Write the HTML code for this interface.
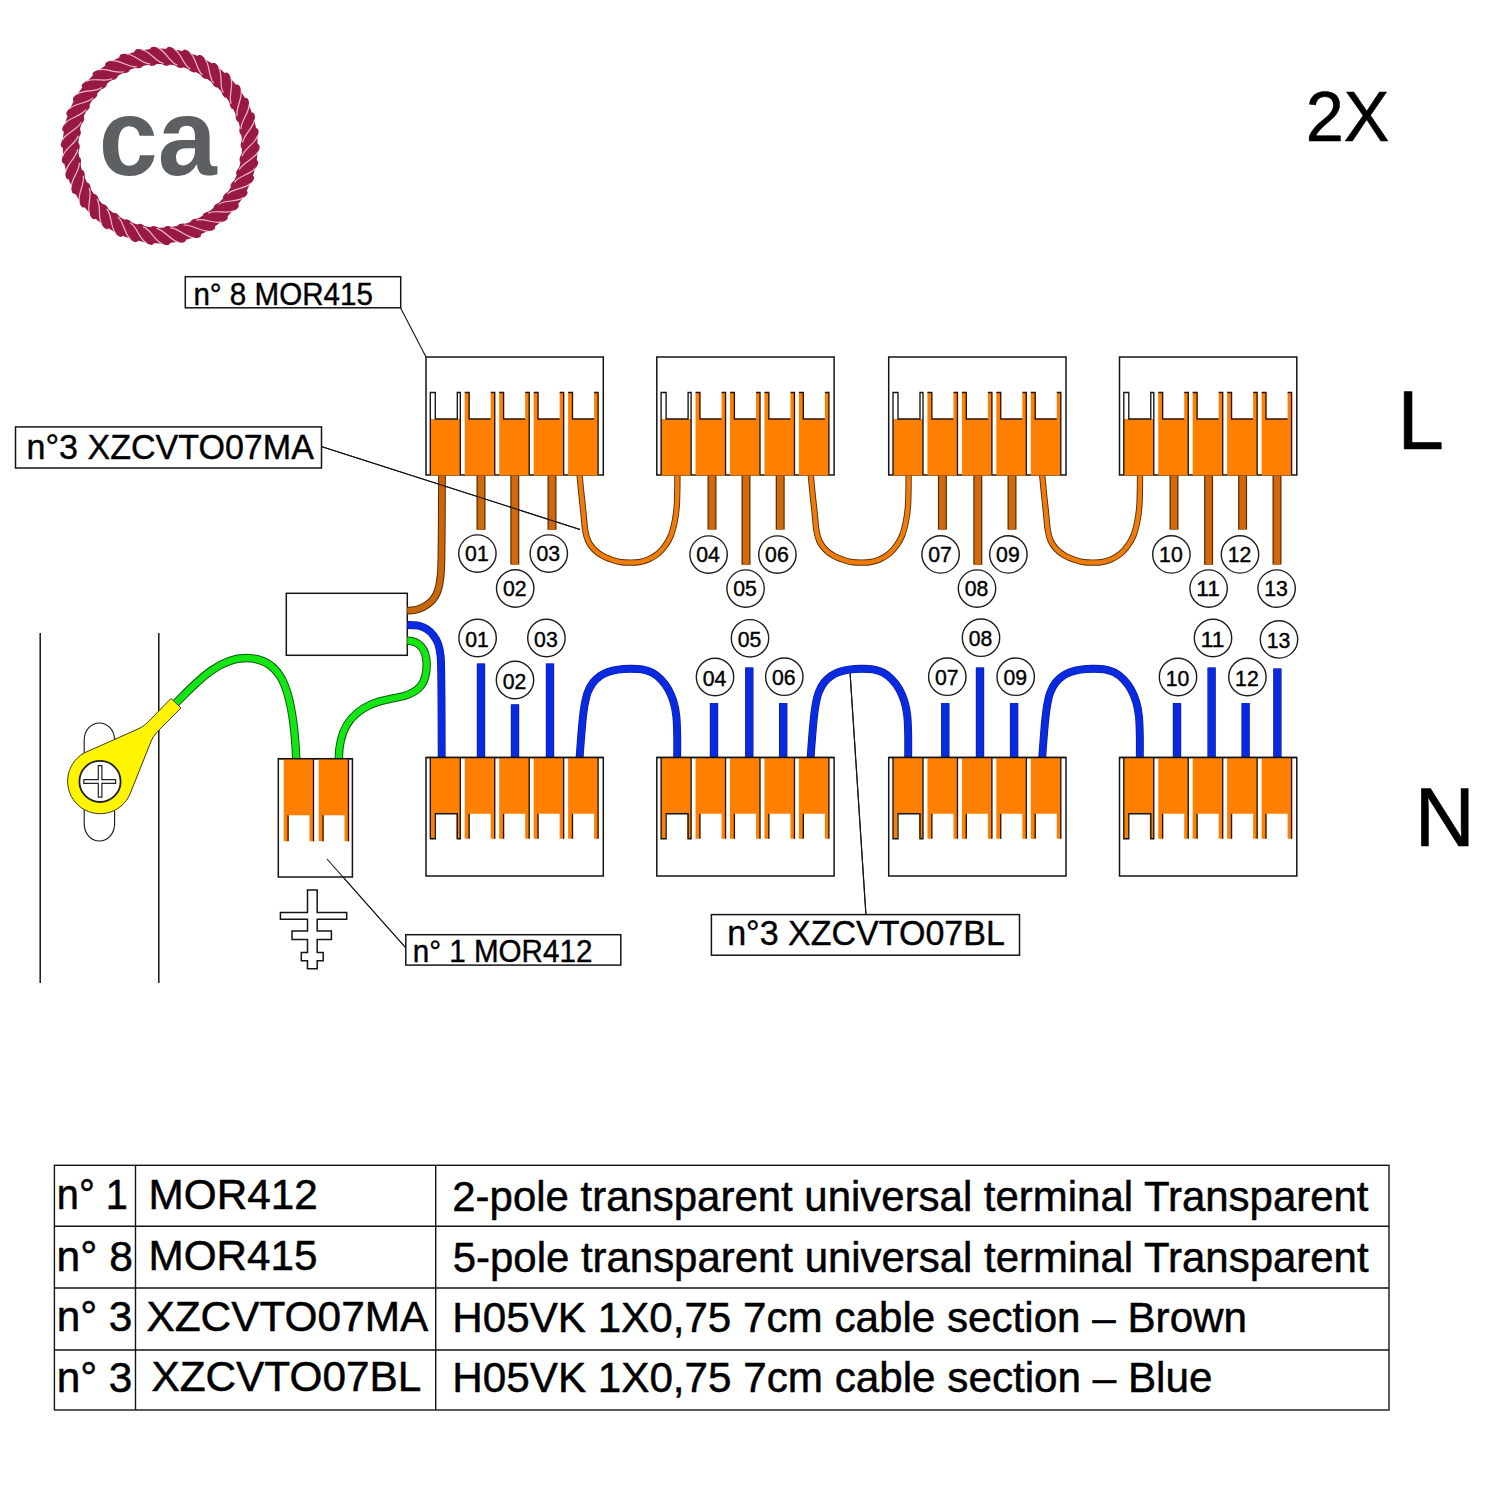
<!DOCTYPE html>
<html lang="en"><head><meta charset="utf-8"><title>Wiring diagram</title>
<style>
html,body{margin:0;padding:0;background:#fff;}
body{width:1500px;height:1499px;overflow:hidden;}
svg{display:block;}
text{white-space:pre;}
</style></head><body>
<svg width="1500" height="1499" viewBox="0 0 1500 1499">
<rect width="1500" height="1499" fill="#fff"/>
<g id="logo">
<circle cx="160.2" cy="145.9" r="89.7" fill="none" stroke="#981a42" stroke-width="15.6"/>
<ellipse cx="0" cy="0" rx="12.6" ry="5.6" fill="#981a42" transform="rotate(0.000 160.2 145.9) translate(160.2 56.20) rotate(43)"/>
<ellipse cx="0" cy="0" rx="12.6" ry="5.6" fill="#981a42" transform="rotate(9.474 160.2 145.9) translate(160.2 56.20) rotate(43)"/>
<ellipse cx="0" cy="0" rx="12.6" ry="5.6" fill="#981a42" transform="rotate(18.947 160.2 145.9) translate(160.2 56.20) rotate(43)"/>
<ellipse cx="0" cy="0" rx="12.6" ry="5.6" fill="#981a42" transform="rotate(28.421 160.2 145.9) translate(160.2 56.20) rotate(43)"/>
<ellipse cx="0" cy="0" rx="12.6" ry="5.6" fill="#981a42" transform="rotate(37.895 160.2 145.9) translate(160.2 56.20) rotate(43)"/>
<ellipse cx="0" cy="0" rx="12.6" ry="5.6" fill="#981a42" transform="rotate(47.368 160.2 145.9) translate(160.2 56.20) rotate(43)"/>
<ellipse cx="0" cy="0" rx="12.6" ry="5.6" fill="#981a42" transform="rotate(56.842 160.2 145.9) translate(160.2 56.20) rotate(43)"/>
<ellipse cx="0" cy="0" rx="12.6" ry="5.6" fill="#981a42" transform="rotate(66.316 160.2 145.9) translate(160.2 56.20) rotate(43)"/>
<ellipse cx="0" cy="0" rx="12.6" ry="5.6" fill="#981a42" transform="rotate(75.789 160.2 145.9) translate(160.2 56.20) rotate(43)"/>
<ellipse cx="0" cy="0" rx="12.6" ry="5.6" fill="#981a42" transform="rotate(85.263 160.2 145.9) translate(160.2 56.20) rotate(43)"/>
<ellipse cx="0" cy="0" rx="12.6" ry="5.6" fill="#981a42" transform="rotate(94.737 160.2 145.9) translate(160.2 56.20) rotate(43)"/>
<ellipse cx="0" cy="0" rx="12.6" ry="5.6" fill="#981a42" transform="rotate(104.211 160.2 145.9) translate(160.2 56.20) rotate(43)"/>
<ellipse cx="0" cy="0" rx="12.6" ry="5.6" fill="#981a42" transform="rotate(113.684 160.2 145.9) translate(160.2 56.20) rotate(43)"/>
<ellipse cx="0" cy="0" rx="12.6" ry="5.6" fill="#981a42" transform="rotate(123.158 160.2 145.9) translate(160.2 56.20) rotate(43)"/>
<ellipse cx="0" cy="0" rx="12.6" ry="5.6" fill="#981a42" transform="rotate(132.632 160.2 145.9) translate(160.2 56.20) rotate(43)"/>
<ellipse cx="0" cy="0" rx="12.6" ry="5.6" fill="#981a42" transform="rotate(142.105 160.2 145.9) translate(160.2 56.20) rotate(43)"/>
<ellipse cx="0" cy="0" rx="12.6" ry="5.6" fill="#981a42" transform="rotate(151.579 160.2 145.9) translate(160.2 56.20) rotate(43)"/>
<ellipse cx="0" cy="0" rx="12.6" ry="5.6" fill="#981a42" transform="rotate(161.053 160.2 145.9) translate(160.2 56.20) rotate(43)"/>
<ellipse cx="0" cy="0" rx="12.6" ry="5.6" fill="#981a42" transform="rotate(170.526 160.2 145.9) translate(160.2 56.20) rotate(43)"/>
<ellipse cx="0" cy="0" rx="12.6" ry="5.6" fill="#981a42" transform="rotate(180.000 160.2 145.9) translate(160.2 56.20) rotate(43)"/>
<ellipse cx="0" cy="0" rx="12.6" ry="5.6" fill="#981a42" transform="rotate(189.474 160.2 145.9) translate(160.2 56.20) rotate(43)"/>
<ellipse cx="0" cy="0" rx="12.6" ry="5.6" fill="#981a42" transform="rotate(198.947 160.2 145.9) translate(160.2 56.20) rotate(43)"/>
<ellipse cx="0" cy="0" rx="12.6" ry="5.6" fill="#981a42" transform="rotate(208.421 160.2 145.9) translate(160.2 56.20) rotate(43)"/>
<ellipse cx="0" cy="0" rx="12.6" ry="5.6" fill="#981a42" transform="rotate(217.895 160.2 145.9) translate(160.2 56.20) rotate(43)"/>
<ellipse cx="0" cy="0" rx="12.6" ry="5.6" fill="#981a42" transform="rotate(227.368 160.2 145.9) translate(160.2 56.20) rotate(43)"/>
<ellipse cx="0" cy="0" rx="12.6" ry="5.6" fill="#981a42" transform="rotate(236.842 160.2 145.9) translate(160.2 56.20) rotate(43)"/>
<ellipse cx="0" cy="0" rx="12.6" ry="5.6" fill="#981a42" transform="rotate(246.316 160.2 145.9) translate(160.2 56.20) rotate(43)"/>
<ellipse cx="0" cy="0" rx="12.6" ry="5.6" fill="#981a42" transform="rotate(255.789 160.2 145.9) translate(160.2 56.20) rotate(43)"/>
<ellipse cx="0" cy="0" rx="12.6" ry="5.6" fill="#981a42" transform="rotate(265.263 160.2 145.9) translate(160.2 56.20) rotate(43)"/>
<ellipse cx="0" cy="0" rx="12.6" ry="5.6" fill="#981a42" transform="rotate(274.737 160.2 145.9) translate(160.2 56.20) rotate(43)"/>
<ellipse cx="0" cy="0" rx="12.6" ry="5.6" fill="#981a42" transform="rotate(284.211 160.2 145.9) translate(160.2 56.20) rotate(43)"/>
<ellipse cx="0" cy="0" rx="12.6" ry="5.6" fill="#981a42" transform="rotate(293.684 160.2 145.9) translate(160.2 56.20) rotate(43)"/>
<ellipse cx="0" cy="0" rx="12.6" ry="5.6" fill="#981a42" transform="rotate(303.158 160.2 145.9) translate(160.2 56.20) rotate(43)"/>
<ellipse cx="0" cy="0" rx="12.6" ry="5.6" fill="#981a42" transform="rotate(312.632 160.2 145.9) translate(160.2 56.20) rotate(43)"/>
<ellipse cx="0" cy="0" rx="12.6" ry="5.6" fill="#981a42" transform="rotate(322.105 160.2 145.9) translate(160.2 56.20) rotate(43)"/>
<ellipse cx="0" cy="0" rx="12.6" ry="5.6" fill="#981a42" transform="rotate(331.579 160.2 145.9) translate(160.2 56.20) rotate(43)"/>
<ellipse cx="0" cy="0" rx="12.6" ry="5.6" fill="#981a42" transform="rotate(341.053 160.2 145.9) translate(160.2 56.20) rotate(43)"/>
<ellipse cx="0" cy="0" rx="12.6" ry="5.6" fill="#981a42" transform="rotate(350.526 160.2 145.9) translate(160.2 56.20) rotate(43)"/>
<path d="M-12.4,1.2 C-6,-2.2 6,2.2 12.4,-1.2" fill="none" stroke="#f4b6c6" stroke-width="1.2" stroke-linecap="round" transform="rotate(4.737 160.2 145.9) translate(160.2 56.20) rotate(43)"/>
<path d="M-12.4,1.2 C-6,-2.2 6,2.2 12.4,-1.2" fill="none" stroke="#f4b6c6" stroke-width="1.2" stroke-linecap="round" transform="rotate(14.211 160.2 145.9) translate(160.2 56.20) rotate(43)"/>
<path d="M-12.4,1.2 C-6,-2.2 6,2.2 12.4,-1.2" fill="none" stroke="#f4b6c6" stroke-width="1.2" stroke-linecap="round" transform="rotate(23.684 160.2 145.9) translate(160.2 56.20) rotate(43)"/>
<path d="M-12.4,1.2 C-6,-2.2 6,2.2 12.4,-1.2" fill="none" stroke="#f4b6c6" stroke-width="1.2" stroke-linecap="round" transform="rotate(33.158 160.2 145.9) translate(160.2 56.20) rotate(43)"/>
<path d="M-12.4,1.2 C-6,-2.2 6,2.2 12.4,-1.2" fill="none" stroke="#f4b6c6" stroke-width="1.2" stroke-linecap="round" transform="rotate(42.632 160.2 145.9) translate(160.2 56.20) rotate(43)"/>
<path d="M-12.4,1.2 C-6,-2.2 6,2.2 12.4,-1.2" fill="none" stroke="#f4b6c6" stroke-width="1.2" stroke-linecap="round" transform="rotate(52.105 160.2 145.9) translate(160.2 56.20) rotate(43)"/>
<path d="M-12.4,1.2 C-6,-2.2 6,2.2 12.4,-1.2" fill="none" stroke="#f4b6c6" stroke-width="1.2" stroke-linecap="round" transform="rotate(61.579 160.2 145.9) translate(160.2 56.20) rotate(43)"/>
<path d="M-12.4,1.2 C-6,-2.2 6,2.2 12.4,-1.2" fill="none" stroke="#f4b6c6" stroke-width="1.2" stroke-linecap="round" transform="rotate(71.053 160.2 145.9) translate(160.2 56.20) rotate(43)"/>
<path d="M-12.4,1.2 C-6,-2.2 6,2.2 12.4,-1.2" fill="none" stroke="#f4b6c6" stroke-width="1.2" stroke-linecap="round" transform="rotate(80.526 160.2 145.9) translate(160.2 56.20) rotate(43)"/>
<path d="M-12.4,1.2 C-6,-2.2 6,2.2 12.4,-1.2" fill="none" stroke="#f4b6c6" stroke-width="1.2" stroke-linecap="round" transform="rotate(90.000 160.2 145.9) translate(160.2 56.20) rotate(43)"/>
<path d="M-12.4,1.2 C-6,-2.2 6,2.2 12.4,-1.2" fill="none" stroke="#f4b6c6" stroke-width="1.2" stroke-linecap="round" transform="rotate(99.474 160.2 145.9) translate(160.2 56.20) rotate(43)"/>
<path d="M-12.4,1.2 C-6,-2.2 6,2.2 12.4,-1.2" fill="none" stroke="#f4b6c6" stroke-width="1.2" stroke-linecap="round" transform="rotate(108.947 160.2 145.9) translate(160.2 56.20) rotate(43)"/>
<path d="M-12.4,1.2 C-6,-2.2 6,2.2 12.4,-1.2" fill="none" stroke="#f4b6c6" stroke-width="1.2" stroke-linecap="round" transform="rotate(118.421 160.2 145.9) translate(160.2 56.20) rotate(43)"/>
<path d="M-12.4,1.2 C-6,-2.2 6,2.2 12.4,-1.2" fill="none" stroke="#f4b6c6" stroke-width="1.2" stroke-linecap="round" transform="rotate(127.895 160.2 145.9) translate(160.2 56.20) rotate(43)"/>
<path d="M-12.4,1.2 C-6,-2.2 6,2.2 12.4,-1.2" fill="none" stroke="#f4b6c6" stroke-width="1.2" stroke-linecap="round" transform="rotate(137.368 160.2 145.9) translate(160.2 56.20) rotate(43)"/>
<path d="M-12.4,1.2 C-6,-2.2 6,2.2 12.4,-1.2" fill="none" stroke="#f4b6c6" stroke-width="1.2" stroke-linecap="round" transform="rotate(146.842 160.2 145.9) translate(160.2 56.20) rotate(43)"/>
<path d="M-12.4,1.2 C-6,-2.2 6,2.2 12.4,-1.2" fill="none" stroke="#f4b6c6" stroke-width="1.2" stroke-linecap="round" transform="rotate(156.316 160.2 145.9) translate(160.2 56.20) rotate(43)"/>
<path d="M-12.4,1.2 C-6,-2.2 6,2.2 12.4,-1.2" fill="none" stroke="#f4b6c6" stroke-width="1.2" stroke-linecap="round" transform="rotate(165.789 160.2 145.9) translate(160.2 56.20) rotate(43)"/>
<path d="M-12.4,1.2 C-6,-2.2 6,2.2 12.4,-1.2" fill="none" stroke="#f4b6c6" stroke-width="1.2" stroke-linecap="round" transform="rotate(175.263 160.2 145.9) translate(160.2 56.20) rotate(43)"/>
<path d="M-12.4,1.2 C-6,-2.2 6,2.2 12.4,-1.2" fill="none" stroke="#f4b6c6" stroke-width="1.2" stroke-linecap="round" transform="rotate(184.737 160.2 145.9) translate(160.2 56.20) rotate(43)"/>
<path d="M-12.4,1.2 C-6,-2.2 6,2.2 12.4,-1.2" fill="none" stroke="#f4b6c6" stroke-width="1.2" stroke-linecap="round" transform="rotate(194.211 160.2 145.9) translate(160.2 56.20) rotate(43)"/>
<path d="M-12.4,1.2 C-6,-2.2 6,2.2 12.4,-1.2" fill="none" stroke="#f4b6c6" stroke-width="1.2" stroke-linecap="round" transform="rotate(203.684 160.2 145.9) translate(160.2 56.20) rotate(43)"/>
<path d="M-12.4,1.2 C-6,-2.2 6,2.2 12.4,-1.2" fill="none" stroke="#f4b6c6" stroke-width="1.2" stroke-linecap="round" transform="rotate(213.158 160.2 145.9) translate(160.2 56.20) rotate(43)"/>
<path d="M-12.4,1.2 C-6,-2.2 6,2.2 12.4,-1.2" fill="none" stroke="#f4b6c6" stroke-width="1.2" stroke-linecap="round" transform="rotate(222.632 160.2 145.9) translate(160.2 56.20) rotate(43)"/>
<path d="M-12.4,1.2 C-6,-2.2 6,2.2 12.4,-1.2" fill="none" stroke="#f4b6c6" stroke-width="1.2" stroke-linecap="round" transform="rotate(232.105 160.2 145.9) translate(160.2 56.20) rotate(43)"/>
<path d="M-12.4,1.2 C-6,-2.2 6,2.2 12.4,-1.2" fill="none" stroke="#f4b6c6" stroke-width="1.2" stroke-linecap="round" transform="rotate(241.579 160.2 145.9) translate(160.2 56.20) rotate(43)"/>
<path d="M-12.4,1.2 C-6,-2.2 6,2.2 12.4,-1.2" fill="none" stroke="#f4b6c6" stroke-width="1.2" stroke-linecap="round" transform="rotate(251.053 160.2 145.9) translate(160.2 56.20) rotate(43)"/>
<path d="M-12.4,1.2 C-6,-2.2 6,2.2 12.4,-1.2" fill="none" stroke="#f4b6c6" stroke-width="1.2" stroke-linecap="round" transform="rotate(260.526 160.2 145.9) translate(160.2 56.20) rotate(43)"/>
<path d="M-12.4,1.2 C-6,-2.2 6,2.2 12.4,-1.2" fill="none" stroke="#f4b6c6" stroke-width="1.2" stroke-linecap="round" transform="rotate(270.000 160.2 145.9) translate(160.2 56.20) rotate(43)"/>
<path d="M-12.4,1.2 C-6,-2.2 6,2.2 12.4,-1.2" fill="none" stroke="#f4b6c6" stroke-width="1.2" stroke-linecap="round" transform="rotate(279.474 160.2 145.9) translate(160.2 56.20) rotate(43)"/>
<path d="M-12.4,1.2 C-6,-2.2 6,2.2 12.4,-1.2" fill="none" stroke="#f4b6c6" stroke-width="1.2" stroke-linecap="round" transform="rotate(288.947 160.2 145.9) translate(160.2 56.20) rotate(43)"/>
<path d="M-12.4,1.2 C-6,-2.2 6,2.2 12.4,-1.2" fill="none" stroke="#f4b6c6" stroke-width="1.2" stroke-linecap="round" transform="rotate(298.421 160.2 145.9) translate(160.2 56.20) rotate(43)"/>
<path d="M-12.4,1.2 C-6,-2.2 6,2.2 12.4,-1.2" fill="none" stroke="#f4b6c6" stroke-width="1.2" stroke-linecap="round" transform="rotate(307.895 160.2 145.9) translate(160.2 56.20) rotate(43)"/>
<path d="M-12.4,1.2 C-6,-2.2 6,2.2 12.4,-1.2" fill="none" stroke="#f4b6c6" stroke-width="1.2" stroke-linecap="round" transform="rotate(317.368 160.2 145.9) translate(160.2 56.20) rotate(43)"/>
<path d="M-12.4,1.2 C-6,-2.2 6,2.2 12.4,-1.2" fill="none" stroke="#f4b6c6" stroke-width="1.2" stroke-linecap="round" transform="rotate(326.842 160.2 145.9) translate(160.2 56.20) rotate(43)"/>
<path d="M-12.4,1.2 C-6,-2.2 6,2.2 12.4,-1.2" fill="none" stroke="#f4b6c6" stroke-width="1.2" stroke-linecap="round" transform="rotate(336.316 160.2 145.9) translate(160.2 56.20) rotate(43)"/>
<path d="M-12.4,1.2 C-6,-2.2 6,2.2 12.4,-1.2" fill="none" stroke="#f4b6c6" stroke-width="1.2" stroke-linecap="round" transform="rotate(345.789 160.2 145.9) translate(160.2 56.20) rotate(43)"/>
<path d="M-12.4,1.2 C-6,-2.2 6,2.2 12.4,-1.2" fill="none" stroke="#f4b6c6" stroke-width="1.2" stroke-linecap="round" transform="rotate(355.263 160.2 145.9) translate(160.2 56.20) rotate(43)"/>
<text x="98.66" y="174.60" font-family="Liberation Sans, sans-serif" font-weight="bold" font-size="108.5" fill="#5c6063" textLength="118.00" lengthAdjust="spacingAndGlyphs">ca</text>
</g>
<text x="1305.78" y="140.50" font-family="Liberation Sans, sans-serif" font-size="70" fill="#000" stroke="#000" stroke-width="0.6" stroke-linejoin="round" textLength="83.60" lengthAdjust="spacingAndGlyphs">2X</text>
<text x="1397.26" y="448.60" font-family="Liberation Sans, sans-serif" font-size="84.3" fill="#000" stroke="#000" stroke-width="0.6" stroke-linejoin="round" textLength="46.77" lengthAdjust="spacingAndGlyphs">L</text>
<text x="1414.59" y="845.60" font-family="Liberation Sans, sans-serif" font-size="84.3" fill="#000" stroke="#000" stroke-width="0.6" stroke-linejoin="round" textLength="60.50" lengthAdjust="spacingAndGlyphs">N</text>
<path d="M40.2,633 V983 M158.8,633 V983" stroke="#141414" stroke-width="1.5" fill="none"/>
<rect x="84.2" y="723" width="30.4" height="118" rx="15.2" ry="17" fill="#fff" stroke="#141414" stroke-width="1.1"/>
<rect x="286.3" y="593.3" width="121" height="62" fill="#fff" stroke="#141414" stroke-width="1.5"/>
<path d="M400.5,307.8 L426,357 M322,446.7 L580,529.5 M327,859 L405.9,948 M850.1,673.3 L865.9,914.1" stroke="#141414" stroke-width="1.1" fill="none"/>
<path d="M481,475.0 V529.8" fill="none" stroke="#5a2a02" stroke-width="9.00" stroke-linecap="butt" stroke-linejoin="round"/>
<path d="M481,475.0 V529.8" fill="none" stroke="#cf690c" stroke-width="6.60" stroke-linecap="butt" stroke-linejoin="round"/>
<path d="M514.8,475.0 V564.6" fill="none" stroke="#5a2a02" stroke-width="9.00" stroke-linecap="butt" stroke-linejoin="round"/>
<path d="M514.8,475.0 V564.6" fill="none" stroke="#cf690c" stroke-width="6.60" stroke-linecap="butt" stroke-linejoin="round"/>
<path d="M552,475.0 V529.8" fill="none" stroke="#5a2a02" stroke-width="9.00" stroke-linecap="butt" stroke-linejoin="round"/>
<path d="M552,475.0 V529.8" fill="none" stroke="#cf690c" stroke-width="6.60" stroke-linecap="butt" stroke-linejoin="round"/>
<path d="M712,475.0 V529.6" fill="none" stroke="#5a2a02" stroke-width="9.00" stroke-linecap="butt" stroke-linejoin="round"/>
<path d="M712,475.0 V529.6" fill="none" stroke="#cf690c" stroke-width="6.60" stroke-linecap="butt" stroke-linejoin="round"/>
<path d="M746,475.0 V564.8" fill="none" stroke="#5a2a02" stroke-width="9.00" stroke-linecap="butt" stroke-linejoin="round"/>
<path d="M746,475.0 V564.8" fill="none" stroke="#cf690c" stroke-width="6.60" stroke-linecap="butt" stroke-linejoin="round"/>
<path d="M780.2,475.0 V529.6" fill="none" stroke="#5a2a02" stroke-width="9.00" stroke-linecap="butt" stroke-linejoin="round"/>
<path d="M780.2,475.0 V529.6" fill="none" stroke="#cf690c" stroke-width="6.60" stroke-linecap="butt" stroke-linejoin="round"/>
<path d="M942.4,475.0 V529.6" fill="none" stroke="#5a2a02" stroke-width="9.00" stroke-linecap="butt" stroke-linejoin="round"/>
<path d="M942.4,475.0 V529.6" fill="none" stroke="#cf690c" stroke-width="6.60" stroke-linecap="butt" stroke-linejoin="round"/>
<path d="M977.8,475.0 V564.8" fill="none" stroke="#5a2a02" stroke-width="9.00" stroke-linecap="butt" stroke-linejoin="round"/>
<path d="M977.8,475.0 V564.8" fill="none" stroke="#cf690c" stroke-width="6.60" stroke-linecap="butt" stroke-linejoin="round"/>
<path d="M1012,475.0 V529.6" fill="none" stroke="#5a2a02" stroke-width="9.00" stroke-linecap="butt" stroke-linejoin="round"/>
<path d="M1012,475.0 V529.6" fill="none" stroke="#cf690c" stroke-width="6.60" stroke-linecap="butt" stroke-linejoin="round"/>
<path d="M1174,475.0 V529.6" fill="none" stroke="#5a2a02" stroke-width="9.00" stroke-linecap="butt" stroke-linejoin="round"/>
<path d="M1174,475.0 V529.6" fill="none" stroke="#cf690c" stroke-width="6.60" stroke-linecap="butt" stroke-linejoin="round"/>
<path d="M1208.6,475.0 V564.8" fill="none" stroke="#5a2a02" stroke-width="9.00" stroke-linecap="butt" stroke-linejoin="round"/>
<path d="M1208.6,475.0 V564.8" fill="none" stroke="#cf690c" stroke-width="6.60" stroke-linecap="butt" stroke-linejoin="round"/>
<path d="M1242.6,475.0 V529.6" fill="none" stroke="#5a2a02" stroke-width="9.00" stroke-linecap="butt" stroke-linejoin="round"/>
<path d="M1242.6,475.0 V529.6" fill="none" stroke="#cf690c" stroke-width="6.60" stroke-linecap="butt" stroke-linejoin="round"/>
<path d="M1277,475.0 V564.6" fill="none" stroke="#5a2a02" stroke-width="9.00" stroke-linecap="butt" stroke-linejoin="round"/>
<path d="M1277,475.0 V564.6" fill="none" stroke="#cf690c" stroke-width="6.60" stroke-linecap="butt" stroke-linejoin="round"/>
<path d="M442.00,475.00 C441.97,482.50 441.90,505.83 441.80,520.00 C441.70,534.17 441.60,550.67 441.40,560.00 C441.20,569.33 441.07,571.33 440.60,576.00 C440.13,580.67 439.47,584.67 438.60,588.00 C437.73,591.33 436.80,593.60 435.40,596.00 C434.00,598.40 432.27,600.53 430.20,602.40 C428.13,604.27 425.53,605.93 423.00,607.20 C420.47,608.47 417.62,609.43 415.00,610.00 C412.38,610.57 408.58,610.50 407.30,610.60" fill="none" stroke="#5a2a02" stroke-width="7.80" stroke-linecap="butt" stroke-linejoin="round"/>
<path d="M442.00,475.00 C441.97,482.50 441.90,505.83 441.80,520.00 C441.70,534.17 441.60,550.67 441.40,560.00 C441.20,569.33 441.07,571.33 440.60,576.00 C440.13,580.67 439.47,584.67 438.60,588.00 C437.73,591.33 436.80,593.60 435.40,596.00 C434.00,598.40 432.27,600.53 430.20,602.40 C428.13,604.27 425.53,605.93 423.00,607.20 C420.47,608.47 417.62,609.43 415.00,610.00 C412.38,610.57 408.58,610.50 407.30,610.60" fill="none" stroke="#c8660c" stroke-width="5.80" stroke-linecap="butt" stroke-linejoin="round"/>
<path d="M579.60,475.00 C579.90,478.17 580.78,487.88 581.40,494.00 C582.02,500.12 582.67,505.65 583.30,511.70 C583.93,517.75 584.42,525.48 585.20,530.30 C585.98,535.12 586.60,537.48 588.00,540.60 C589.40,543.72 591.27,546.52 593.60,549.00 C595.93,551.48 598.88,553.68 602.00,555.50 C605.12,557.32 609.18,558.80 612.30,559.90 C615.42,561.00 617.75,561.65 620.70,562.10 C623.65,562.55 626.90,562.60 630.00,562.60 C633.10,562.60 636.18,562.65 639.30,562.10 C642.42,561.55 645.58,560.70 648.70,559.30 C651.82,557.90 655.20,556.03 658.00,553.70 C660.80,551.37 663.32,548.42 665.50,545.30 C667.68,542.18 669.55,539.05 671.10,535.00 C672.65,530.95 673.87,525.67 674.80,521.00 C675.73,516.33 676.28,512.17 676.70,507.00 C677.12,501.83 677.18,495.33 677.30,490.00 C677.42,484.67 677.38,477.50 677.40,475.00" fill="none" stroke="#5a2a02" stroke-width="6.30" stroke-linecap="butt" stroke-linejoin="round"/>
<path d="M579.60,475.00 C579.90,478.17 580.78,487.88 581.40,494.00 C582.02,500.12 582.67,505.65 583.30,511.70 C583.93,517.75 584.42,525.48 585.20,530.30 C585.98,535.12 586.60,537.48 588.00,540.60 C589.40,543.72 591.27,546.52 593.60,549.00 C595.93,551.48 598.88,553.68 602.00,555.50 C605.12,557.32 609.18,558.80 612.30,559.90 C615.42,561.00 617.75,561.65 620.70,562.10 C623.65,562.55 626.90,562.60 630.00,562.60 C633.10,562.60 636.18,562.65 639.30,562.10 C642.42,561.55 645.58,560.70 648.70,559.30 C651.82,557.90 655.20,556.03 658.00,553.70 C660.80,551.37 663.32,548.42 665.50,545.30 C667.68,542.18 669.55,539.05 671.10,535.00 C672.65,530.95 673.87,525.67 674.80,521.00 C675.73,516.33 676.28,512.17 676.70,507.00 C677.12,501.83 677.18,495.33 677.30,490.00 C677.42,484.67 677.38,477.50 677.40,475.00" fill="none" stroke="#ee7c0c" stroke-width="4.50" stroke-linecap="butt" stroke-linejoin="round"/>
<path d="M810.80,475.00 C811.10,478.17 811.98,487.88 812.60,494.00 C813.22,500.12 813.87,505.65 814.50,511.70 C815.13,517.75 815.62,525.48 816.40,530.30 C817.18,535.12 817.80,537.48 819.20,540.60 C820.60,543.72 822.47,546.52 824.80,549.00 C827.13,551.48 830.08,553.68 833.20,555.50 C836.32,557.32 840.38,558.80 843.50,559.90 C846.62,561.00 848.95,561.65 851.90,562.10 C854.85,562.55 858.10,562.60 861.20,562.60 C864.30,562.60 867.38,562.65 870.50,562.10 C873.62,561.55 876.78,560.70 879.90,559.30 C883.02,557.90 886.40,556.03 889.20,553.70 C892.00,551.37 894.52,548.42 896.70,545.30 C898.88,542.18 900.75,539.05 902.30,535.00 C903.85,530.95 905.07,525.67 906.00,521.00 C906.93,516.33 907.48,512.17 907.90,507.00 C908.32,501.83 908.38,495.33 908.50,490.00 C908.62,484.67 908.58,477.50 908.60,475.00" fill="none" stroke="#5a2a02" stroke-width="6.30" stroke-linecap="butt" stroke-linejoin="round"/>
<path d="M810.80,475.00 C811.10,478.17 811.98,487.88 812.60,494.00 C813.22,500.12 813.87,505.65 814.50,511.70 C815.13,517.75 815.62,525.48 816.40,530.30 C817.18,535.12 817.80,537.48 819.20,540.60 C820.60,543.72 822.47,546.52 824.80,549.00 C827.13,551.48 830.08,553.68 833.20,555.50 C836.32,557.32 840.38,558.80 843.50,559.90 C846.62,561.00 848.95,561.65 851.90,562.10 C854.85,562.55 858.10,562.60 861.20,562.60 C864.30,562.60 867.38,562.65 870.50,562.10 C873.62,561.55 876.78,560.70 879.90,559.30 C883.02,557.90 886.40,556.03 889.20,553.70 C892.00,551.37 894.52,548.42 896.70,545.30 C898.88,542.18 900.75,539.05 902.30,535.00 C903.85,530.95 905.07,525.67 906.00,521.00 C906.93,516.33 907.48,512.17 907.90,507.00 C908.32,501.83 908.38,495.33 908.50,490.00 C908.62,484.67 908.58,477.50 908.60,475.00" fill="none" stroke="#ee7c0c" stroke-width="4.50" stroke-linecap="butt" stroke-linejoin="round"/>
<path d="M1042.20,475.00 C1042.50,478.17 1043.38,487.88 1044.00,494.00 C1044.62,500.12 1045.27,505.65 1045.90,511.70 C1046.53,517.75 1047.02,525.48 1047.80,530.30 C1048.58,535.12 1049.20,537.48 1050.60,540.60 C1052.00,543.72 1053.87,546.52 1056.20,549.00 C1058.53,551.48 1061.48,553.68 1064.60,555.50 C1067.72,557.32 1071.78,558.80 1074.90,559.90 C1078.02,561.00 1080.35,561.65 1083.30,562.10 C1086.25,562.55 1089.50,562.60 1092.60,562.60 C1095.70,562.60 1098.78,562.65 1101.90,562.10 C1105.02,561.55 1108.18,560.70 1111.30,559.30 C1114.42,557.90 1117.80,556.03 1120.60,553.70 C1123.40,551.37 1125.92,548.42 1128.10,545.30 C1130.28,542.18 1132.15,539.05 1133.70,535.00 C1135.25,530.95 1136.47,525.67 1137.40,521.00 C1138.33,516.33 1138.88,512.17 1139.30,507.00 C1139.72,501.83 1139.78,495.33 1139.90,490.00 C1140.02,484.67 1139.98,477.50 1140.00,475.00" fill="none" stroke="#5a2a02" stroke-width="6.30" stroke-linecap="butt" stroke-linejoin="round"/>
<path d="M1042.20,475.00 C1042.50,478.17 1043.38,487.88 1044.00,494.00 C1044.62,500.12 1045.27,505.65 1045.90,511.70 C1046.53,517.75 1047.02,525.48 1047.80,530.30 C1048.58,535.12 1049.20,537.48 1050.60,540.60 C1052.00,543.72 1053.87,546.52 1056.20,549.00 C1058.53,551.48 1061.48,553.68 1064.60,555.50 C1067.72,557.32 1071.78,558.80 1074.90,559.90 C1078.02,561.00 1080.35,561.65 1083.30,562.10 C1086.25,562.55 1089.50,562.60 1092.60,562.60 C1095.70,562.60 1098.78,562.65 1101.90,562.10 C1105.02,561.55 1108.18,560.70 1111.30,559.30 C1114.42,557.90 1117.80,556.03 1120.60,553.70 C1123.40,551.37 1125.92,548.42 1128.10,545.30 C1130.28,542.18 1132.15,539.05 1133.70,535.00 C1135.25,530.95 1136.47,525.67 1137.40,521.00 C1138.33,516.33 1138.88,512.17 1139.30,507.00 C1139.72,501.83 1139.78,495.33 1139.90,490.00 C1140.02,484.67 1139.98,477.50 1140.00,475.00" fill="none" stroke="#ee7c0c" stroke-width="4.50" stroke-linecap="butt" stroke-linejoin="round"/>
<path d="M481,757.5 V663.6" fill="none" stroke="#061a9c" stroke-width="8.40" stroke-linecap="butt" stroke-linejoin="round"/>
<path d="M481,757.5 V663.6" fill="none" stroke="#0a2ae0" stroke-width="7.20" stroke-linecap="butt" stroke-linejoin="round"/>
<path d="M515,757.5 V704.4" fill="none" stroke="#061a9c" stroke-width="8.40" stroke-linecap="butt" stroke-linejoin="round"/>
<path d="M515,757.5 V704.4" fill="none" stroke="#0a2ae0" stroke-width="7.20" stroke-linecap="butt" stroke-linejoin="round"/>
<path d="M550,757.5 V663.6" fill="none" stroke="#061a9c" stroke-width="8.40" stroke-linecap="butt" stroke-linejoin="round"/>
<path d="M550,757.5 V663.6" fill="none" stroke="#0a2ae0" stroke-width="7.20" stroke-linecap="butt" stroke-linejoin="round"/>
<path d="M714,757.5 V703" fill="none" stroke="#061a9c" stroke-width="8.40" stroke-linecap="butt" stroke-linejoin="round"/>
<path d="M714,757.5 V703" fill="none" stroke="#0a2ae0" stroke-width="7.20" stroke-linecap="butt" stroke-linejoin="round"/>
<path d="M749.3,757.5 V667.5" fill="none" stroke="#061a9c" stroke-width="8.40" stroke-linecap="butt" stroke-linejoin="round"/>
<path d="M749.3,757.5 V667.5" fill="none" stroke="#0a2ae0" stroke-width="7.20" stroke-linecap="butt" stroke-linejoin="round"/>
<path d="M783.2,757.5 V703" fill="none" stroke="#061a9c" stroke-width="8.40" stroke-linecap="butt" stroke-linejoin="round"/>
<path d="M783.2,757.5 V703" fill="none" stroke="#0a2ae0" stroke-width="7.20" stroke-linecap="butt" stroke-linejoin="round"/>
<path d="M945.3,757.5 V703" fill="none" stroke="#061a9c" stroke-width="8.40" stroke-linecap="butt" stroke-linejoin="round"/>
<path d="M945.3,757.5 V703" fill="none" stroke="#0a2ae0" stroke-width="7.20" stroke-linecap="butt" stroke-linejoin="round"/>
<path d="M980,757.5 V667.5" fill="none" stroke="#061a9c" stroke-width="8.40" stroke-linecap="butt" stroke-linejoin="round"/>
<path d="M980,757.5 V667.5" fill="none" stroke="#0a2ae0" stroke-width="7.20" stroke-linecap="butt" stroke-linejoin="round"/>
<path d="M1014.1,757.5 V703" fill="none" stroke="#061a9c" stroke-width="8.40" stroke-linecap="butt" stroke-linejoin="round"/>
<path d="M1014.1,757.5 V703" fill="none" stroke="#0a2ae0" stroke-width="7.20" stroke-linecap="butt" stroke-linejoin="round"/>
<path d="M1177,757.5 V703" fill="none" stroke="#061a9c" stroke-width="8.40" stroke-linecap="butt" stroke-linejoin="round"/>
<path d="M1177,757.5 V703" fill="none" stroke="#0a2ae0" stroke-width="7.20" stroke-linecap="butt" stroke-linejoin="round"/>
<path d="M1211.6,757.5 V667.6" fill="none" stroke="#061a9c" stroke-width="8.40" stroke-linecap="butt" stroke-linejoin="round"/>
<path d="M1211.6,757.5 V667.6" fill="none" stroke="#0a2ae0" stroke-width="7.20" stroke-linecap="butt" stroke-linejoin="round"/>
<path d="M1245.6,757.5 V703" fill="none" stroke="#061a9c" stroke-width="8.40" stroke-linecap="butt" stroke-linejoin="round"/>
<path d="M1245.6,757.5 V703" fill="none" stroke="#0a2ae0" stroke-width="7.20" stroke-linecap="butt" stroke-linejoin="round"/>
<path d="M1277.4,757.5 V668.6" fill="none" stroke="#061a9c" stroke-width="8.40" stroke-linecap="butt" stroke-linejoin="round"/>
<path d="M1277.4,757.5 V668.6" fill="none" stroke="#0a2ae0" stroke-width="7.20" stroke-linecap="butt" stroke-linejoin="round"/>
<path d="M407.30,625.00 C408.25,625.03 411.05,625.07 413.00,625.20 C414.95,625.33 416.67,625.12 419.00,625.80 C421.33,626.48 424.60,627.72 427.00,629.30 C429.40,630.88 431.53,632.85 433.40,635.30 C435.27,637.75 437.00,640.55 438.20,644.00 C439.40,647.45 440.10,651.33 440.60,656.00 C441.10,660.67 441.05,664.67 441.20,672.00 C441.35,679.33 441.42,685.75 441.50,700.00 C441.58,714.25 441.67,747.92 441.70,757.50" fill="none" stroke="#061a9c" stroke-width="7.90" stroke-linecap="butt" stroke-linejoin="round"/>
<path d="M407.30,625.00 C408.25,625.03 411.05,625.07 413.00,625.20 C414.95,625.33 416.67,625.12 419.00,625.80 C421.33,626.48 424.60,627.72 427.00,629.30 C429.40,630.88 431.53,632.85 433.40,635.30 C435.27,637.75 437.00,640.55 438.20,644.00 C439.40,647.45 440.10,651.33 440.60,656.00 C441.10,660.67 441.05,664.67 441.20,672.00 C441.35,679.33 441.42,685.75 441.50,700.00 C441.58,714.25 441.67,747.92 441.70,757.50" fill="none" stroke="#0a2ae0" stroke-width="6.70" stroke-linecap="butt" stroke-linejoin="round"/>
<path d="M579.60,757.50 C579.83,754.42 580.50,745.20 581.00,739.00 C581.50,732.80 582.00,725.97 582.60,720.30 C583.20,714.63 583.75,709.67 584.60,705.00 C585.45,700.33 586.28,696.05 587.70,692.30 C589.12,688.55 591.03,685.22 593.10,682.50 C595.17,679.78 597.62,677.75 600.10,676.00 C602.58,674.25 605.02,673.07 608.00,672.00 C610.98,670.93 614.33,670.13 618.00,669.60 C621.67,669.07 626.00,668.83 630.00,668.80 C634.00,668.77 638.33,668.77 642.00,669.40 C645.67,670.03 648.83,670.92 652.00,672.60 C655.17,674.28 658.27,676.68 661.00,679.50 C663.73,682.32 666.30,685.75 668.40,689.50 C670.50,693.25 672.28,697.58 673.60,702.00 C674.92,706.42 675.70,710.50 676.30,716.00 C676.90,721.50 677.05,728.08 677.20,735.00 C677.35,741.92 677.20,753.75 677.20,757.50" fill="none" stroke="#061a9c" stroke-width="7.90" stroke-linecap="butt" stroke-linejoin="round"/>
<path d="M579.60,757.50 C579.83,754.42 580.50,745.20 581.00,739.00 C581.50,732.80 582.00,725.97 582.60,720.30 C583.20,714.63 583.75,709.67 584.60,705.00 C585.45,700.33 586.28,696.05 587.70,692.30 C589.12,688.55 591.03,685.22 593.10,682.50 C595.17,679.78 597.62,677.75 600.10,676.00 C602.58,674.25 605.02,673.07 608.00,672.00 C610.98,670.93 614.33,670.13 618.00,669.60 C621.67,669.07 626.00,668.83 630.00,668.80 C634.00,668.77 638.33,668.77 642.00,669.40 C645.67,670.03 648.83,670.92 652.00,672.60 C655.17,674.28 658.27,676.68 661.00,679.50 C663.73,682.32 666.30,685.75 668.40,689.50 C670.50,693.25 672.28,697.58 673.60,702.00 C674.92,706.42 675.70,710.50 676.30,716.00 C676.90,721.50 677.05,728.08 677.20,735.00 C677.35,741.92 677.20,753.75 677.20,757.50" fill="none" stroke="#0a2ae0" stroke-width="6.70" stroke-linecap="butt" stroke-linejoin="round"/>
<path d="M810.60,757.50 C810.83,754.42 811.50,745.20 812.00,739.00 C812.50,732.80 813.00,725.97 813.60,720.30 C814.20,714.63 814.75,709.67 815.60,705.00 C816.45,700.33 817.28,696.05 818.70,692.30 C820.12,688.55 822.03,685.22 824.10,682.50 C826.17,679.78 828.62,677.75 831.10,676.00 C833.58,674.25 836.02,673.07 839.00,672.00 C841.98,670.93 845.33,670.13 849.00,669.60 C852.67,669.07 857.00,668.83 861.00,668.80 C865.00,668.77 869.33,668.77 873.00,669.40 C876.67,670.03 879.83,670.92 883.00,672.60 C886.17,674.28 889.27,676.68 892.00,679.50 C894.73,682.32 897.30,685.75 899.40,689.50 C901.50,693.25 903.28,697.58 904.60,702.00 C905.92,706.42 906.70,710.50 907.30,716.00 C907.90,721.50 908.05,728.08 908.20,735.00 C908.35,741.92 908.20,753.75 908.20,757.50" fill="none" stroke="#061a9c" stroke-width="7.90" stroke-linecap="butt" stroke-linejoin="round"/>
<path d="M810.60,757.50 C810.83,754.42 811.50,745.20 812.00,739.00 C812.50,732.80 813.00,725.97 813.60,720.30 C814.20,714.63 814.75,709.67 815.60,705.00 C816.45,700.33 817.28,696.05 818.70,692.30 C820.12,688.55 822.03,685.22 824.10,682.50 C826.17,679.78 828.62,677.75 831.10,676.00 C833.58,674.25 836.02,673.07 839.00,672.00 C841.98,670.93 845.33,670.13 849.00,669.60 C852.67,669.07 857.00,668.83 861.00,668.80 C865.00,668.77 869.33,668.77 873.00,669.40 C876.67,670.03 879.83,670.92 883.00,672.60 C886.17,674.28 889.27,676.68 892.00,679.50 C894.73,682.32 897.30,685.75 899.40,689.50 C901.50,693.25 903.28,697.58 904.60,702.00 C905.92,706.42 906.70,710.50 907.30,716.00 C907.90,721.50 908.05,728.08 908.20,735.00 C908.35,741.92 908.20,753.75 908.20,757.50" fill="none" stroke="#0a2ae0" stroke-width="6.70" stroke-linecap="butt" stroke-linejoin="round"/>
<path d="M1042.20,757.50 C1042.43,754.42 1043.10,745.20 1043.60,739.00 C1044.10,732.80 1044.60,725.97 1045.20,720.30 C1045.80,714.63 1046.35,709.67 1047.20,705.00 C1048.05,700.33 1048.88,696.05 1050.30,692.30 C1051.72,688.55 1053.63,685.22 1055.70,682.50 C1057.77,679.78 1060.22,677.75 1062.70,676.00 C1065.18,674.25 1067.62,673.07 1070.60,672.00 C1073.58,670.93 1076.93,670.13 1080.60,669.60 C1084.27,669.07 1088.60,668.83 1092.60,668.80 C1096.60,668.77 1100.93,668.77 1104.60,669.40 C1108.27,670.03 1111.43,670.92 1114.60,672.60 C1117.77,674.28 1120.87,676.68 1123.60,679.50 C1126.33,682.32 1128.90,685.75 1131.00,689.50 C1133.10,693.25 1134.88,697.58 1136.20,702.00 C1137.52,706.42 1138.30,710.50 1138.90,716.00 C1139.50,721.50 1139.65,728.08 1139.80,735.00 C1139.95,741.92 1139.80,753.75 1139.80,757.50" fill="none" stroke="#061a9c" stroke-width="7.90" stroke-linecap="butt" stroke-linejoin="round"/>
<path d="M1042.20,757.50 C1042.43,754.42 1043.10,745.20 1043.60,739.00 C1044.10,732.80 1044.60,725.97 1045.20,720.30 C1045.80,714.63 1046.35,709.67 1047.20,705.00 C1048.05,700.33 1048.88,696.05 1050.30,692.30 C1051.72,688.55 1053.63,685.22 1055.70,682.50 C1057.77,679.78 1060.22,677.75 1062.70,676.00 C1065.18,674.25 1067.62,673.07 1070.60,672.00 C1073.58,670.93 1076.93,670.13 1080.60,669.60 C1084.27,669.07 1088.60,668.83 1092.60,668.80 C1096.60,668.77 1100.93,668.77 1104.60,669.40 C1108.27,670.03 1111.43,670.92 1114.60,672.60 C1117.77,674.28 1120.87,676.68 1123.60,679.50 C1126.33,682.32 1128.90,685.75 1131.00,689.50 C1133.10,693.25 1134.88,697.58 1136.20,702.00 C1137.52,706.42 1138.30,710.50 1138.90,716.00 C1139.50,721.50 1139.65,728.08 1139.80,735.00 C1139.95,741.92 1139.80,753.75 1139.80,757.50" fill="none" stroke="#0a2ae0" stroke-width="6.70" stroke-linecap="butt" stroke-linejoin="round"/>
<path d="M176,703 C196,683 218,658 246,658 C266,658 278,668 285,686 C292,704 295,730 296.3,759" fill="none" stroke="#0a5a0a" stroke-width="8.40" stroke-linecap="butt" stroke-linejoin="round"/>
<path d="M176,703 C196,683 218,658 246,658 C266,658 278,668 285,686 C292,704 295,730 296.3,759" fill="none" stroke="#14e614" stroke-width="6.40" stroke-linecap="butt" stroke-linejoin="round"/>
<path d="M407.3,640.7 C418,640.5 426.5,648 426.7,664 C427,684 418,692 404,696 C392,699 380,700 370,705 C350,714 339,730 338.8,758.7" fill="none" stroke="#0a5a0a" stroke-width="8.40" stroke-linecap="butt" stroke-linejoin="round"/>
<path d="M407.3,640.7 C418,640.5 426.5,648 426.7,664 C427,684 418,692 404,696 C392,699 380,700 370,705 C350,714 339,730 338.8,758.7" fill="none" stroke="#14e614" stroke-width="6.40" stroke-linecap="butt" stroke-linejoin="round"/>
<rect x="426.00" y="357.00" width="177.30" height="118.00" fill="#fff" stroke="#141414" stroke-width="1.5"/>
<rect x="430.30" y="419.00" width="30.00" height="56.50" fill="#ff8000"/>
<path d="M430.30,475.00 V392.50 H435.30 V419.00 H457.30 V392.50 H460.30 V475.00" fill="none" stroke="#141414" stroke-width="1.35"/>
<path d="M464.75,475.50 V392.50 H469.15 V419.00 H490.75 V392.50 H494.75 V475.50 Z" fill="#ff8000"/>
<path d="M464.75,392.50 H469.15 V419.00 H490.75 M490.75,392.50 H494.75 V475.00" fill="none" stroke="#2b1200" stroke-width="1.35" stroke-linejoin="miter"/>
<path d="M499.20,475.50 V392.50 H503.60 V419.00 H525.20 V392.50 H529.20 V475.50 Z" fill="#ff8000"/>
<path d="M499.20,392.50 H503.60 V419.00 H525.20 M525.20,392.50 H529.20 V475.00" fill="none" stroke="#2b1200" stroke-width="1.35" stroke-linejoin="miter"/>
<path d="M533.65,475.50 V392.50 H538.05 V419.00 H559.65 V392.50 H563.65 V475.50 Z" fill="#ff8000"/>
<path d="M533.65,392.50 H538.05 V419.00 H559.65 M559.65,392.50 H563.65 V475.00" fill="none" stroke="#2b1200" stroke-width="1.35" stroke-linejoin="miter"/>
<path d="M568.10,475.50 V392.50 H572.50 V419.00 H594.10 V392.50 H598.10 V475.50 Z" fill="#ff8000"/>
<path d="M568.10,392.50 H572.50 V419.00 H594.10 M594.10,392.50 H598.10 V475.00" fill="none" stroke="#2b1200" stroke-width="1.35" stroke-linejoin="miter"/>
<rect x="656.80" y="357.00" width="177.30" height="118.00" fill="#fff" stroke="#141414" stroke-width="1.5"/>
<rect x="661.10" y="419.00" width="30.00" height="56.50" fill="#ff8000"/>
<path d="M661.10,475.00 V392.50 H666.10 V419.00 H688.10 V392.50 H691.10 V475.00" fill="none" stroke="#141414" stroke-width="1.35"/>
<path d="M695.55,475.50 V392.50 H699.95 V419.00 H721.55 V392.50 H725.55 V475.50 Z" fill="#ff8000"/>
<path d="M695.55,392.50 H699.95 V419.00 H721.55 M721.55,392.50 H725.55 V475.00" fill="none" stroke="#2b1200" stroke-width="1.35" stroke-linejoin="miter"/>
<path d="M730.00,475.50 V392.50 H734.40 V419.00 H756.00 V392.50 H760.00 V475.50 Z" fill="#ff8000"/>
<path d="M730.00,392.50 H734.40 V419.00 H756.00 M756.00,392.50 H760.00 V475.00" fill="none" stroke="#2b1200" stroke-width="1.35" stroke-linejoin="miter"/>
<path d="M764.45,475.50 V392.50 H768.85 V419.00 H790.45 V392.50 H794.45 V475.50 Z" fill="#ff8000"/>
<path d="M764.45,392.50 H768.85 V419.00 H790.45 M790.45,392.50 H794.45 V475.00" fill="none" stroke="#2b1200" stroke-width="1.35" stroke-linejoin="miter"/>
<path d="M798.90,475.50 V392.50 H803.30 V419.00 H824.90 V392.50 H828.90 V475.50 Z" fill="#ff8000"/>
<path d="M798.90,392.50 H803.30 V419.00 H824.90 M824.90,392.50 H828.90 V475.00" fill="none" stroke="#2b1200" stroke-width="1.35" stroke-linejoin="miter"/>
<rect x="888.70" y="357.00" width="177.30" height="118.00" fill="#fff" stroke="#141414" stroke-width="1.5"/>
<rect x="893.00" y="419.00" width="30.00" height="56.50" fill="#ff8000"/>
<path d="M893.00,475.00 V392.50 H898.00 V419.00 H920.00 V392.50 H923.00 V475.00" fill="none" stroke="#141414" stroke-width="1.35"/>
<path d="M927.45,475.50 V392.50 H931.85 V419.00 H953.45 V392.50 H957.45 V475.50 Z" fill="#ff8000"/>
<path d="M927.45,392.50 H931.85 V419.00 H953.45 M953.45,392.50 H957.45 V475.00" fill="none" stroke="#2b1200" stroke-width="1.35" stroke-linejoin="miter"/>
<path d="M961.90,475.50 V392.50 H966.30 V419.00 H987.90 V392.50 H991.90 V475.50 Z" fill="#ff8000"/>
<path d="M961.90,392.50 H966.30 V419.00 H987.90 M987.90,392.50 H991.90 V475.00" fill="none" stroke="#2b1200" stroke-width="1.35" stroke-linejoin="miter"/>
<path d="M996.35,475.50 V392.50 H1000.75 V419.00 H1022.35 V392.50 H1026.35 V475.50 Z" fill="#ff8000"/>
<path d="M996.35,392.50 H1000.75 V419.00 H1022.35 M1022.35,392.50 H1026.35 V475.00" fill="none" stroke="#2b1200" stroke-width="1.35" stroke-linejoin="miter"/>
<path d="M1030.80,475.50 V392.50 H1035.20 V419.00 H1056.80 V392.50 H1060.80 V475.50 Z" fill="#ff8000"/>
<path d="M1030.80,392.50 H1035.20 V419.00 H1056.80 M1056.80,392.50 H1060.80 V475.00" fill="none" stroke="#2b1200" stroke-width="1.35" stroke-linejoin="miter"/>
<rect x="1119.50" y="357.00" width="177.30" height="118.00" fill="#fff" stroke="#141414" stroke-width="1.5"/>
<rect x="1123.80" y="419.00" width="30.00" height="56.50" fill="#ff8000"/>
<path d="M1123.80,475.00 V392.50 H1128.80 V419.00 H1150.80 V392.50 H1153.80 V475.00" fill="none" stroke="#141414" stroke-width="1.35"/>
<path d="M1158.25,475.50 V392.50 H1162.65 V419.00 H1184.25 V392.50 H1188.25 V475.50 Z" fill="#ff8000"/>
<path d="M1158.25,392.50 H1162.65 V419.00 H1184.25 M1184.25,392.50 H1188.25 V475.00" fill="none" stroke="#2b1200" stroke-width="1.35" stroke-linejoin="miter"/>
<path d="M1192.70,475.50 V392.50 H1197.10 V419.00 H1218.70 V392.50 H1222.70 V475.50 Z" fill="#ff8000"/>
<path d="M1192.70,392.50 H1197.10 V419.00 H1218.70 M1218.70,392.50 H1222.70 V475.00" fill="none" stroke="#2b1200" stroke-width="1.35" stroke-linejoin="miter"/>
<path d="M1227.15,475.50 V392.50 H1231.55 V419.00 H1253.15 V392.50 H1257.15 V475.50 Z" fill="#ff8000"/>
<path d="M1227.15,392.50 H1231.55 V419.00 H1253.15 M1253.15,392.50 H1257.15 V475.00" fill="none" stroke="#2b1200" stroke-width="1.35" stroke-linejoin="miter"/>
<path d="M1261.60,475.50 V392.50 H1266.00 V419.00 H1287.60 V392.50 H1291.60 V475.50 Z" fill="#ff8000"/>
<path d="M1261.60,392.50 H1266.00 V419.00 H1287.60 M1287.60,392.50 H1291.60 V475.00" fill="none" stroke="#2b1200" stroke-width="1.35" stroke-linejoin="miter"/>
<rect x="426.00" y="757.50" width="177.30" height="118.50" fill="#fff" stroke="#141414" stroke-width="1.5"/>
<path d="M430.30,757.50 V838.70 H434.70 V813.70 H456.30 V838.70 H460.30 V757.50 Z" fill="#ff8000"/>
<path d="M430.30,757.50 V838.70 H435.30 V813.70 H457.30 V838.70 H460.30 V757.50" fill="none" stroke="#141414" stroke-width="1.35"/>
<path d="M464.75,757.50 V838.70 H469.15 V813.70 H490.75 V838.70 H494.75 V757.50 Z" fill="#ff8000"/>
<path d="M494.75,757.50 V838.70 M469.15,838.70 V813.70" fill="none" stroke="#2b1200" stroke-width="1.35"/>
<path d="M499.20,757.50 V838.70 H503.60 V813.70 H525.20 V838.70 H529.20 V757.50 Z" fill="#ff8000"/>
<path d="M529.20,757.50 V838.70 M503.60,838.70 V813.70" fill="none" stroke="#2b1200" stroke-width="1.35"/>
<path d="M533.65,757.50 V838.70 H538.05 V813.70 H559.65 V838.70 H563.65 V757.50 Z" fill="#ff8000"/>
<path d="M563.65,757.50 V838.70 M538.05,838.70 V813.70" fill="none" stroke="#2b1200" stroke-width="1.35"/>
<path d="M568.10,757.50 V838.70 H572.50 V813.70 H594.10 V838.70 H598.10 V757.50 Z" fill="#ff8000"/>
<path d="M598.10,757.50 V838.70 M572.50,838.70 V813.70" fill="none" stroke="#2b1200" stroke-width="1.35"/>
<path d="M426.00,757.50 H603.30" fill="none" stroke="#141414" stroke-width="1.5"/>
<rect x="656.80" y="757.50" width="177.30" height="118.50" fill="#fff" stroke="#141414" stroke-width="1.5"/>
<path d="M661.10,757.50 V838.70 H665.50 V813.70 H687.10 V838.70 H691.10 V757.50 Z" fill="#ff8000"/>
<path d="M661.10,757.50 V838.70 H666.10 V813.70 H688.10 V838.70 H691.10 V757.50" fill="none" stroke="#141414" stroke-width="1.35"/>
<path d="M695.55,757.50 V838.70 H699.95 V813.70 H721.55 V838.70 H725.55 V757.50 Z" fill="#ff8000"/>
<path d="M725.55,757.50 V838.70 M699.95,838.70 V813.70" fill="none" stroke="#2b1200" stroke-width="1.35"/>
<path d="M730.00,757.50 V838.70 H734.40 V813.70 H756.00 V838.70 H760.00 V757.50 Z" fill="#ff8000"/>
<path d="M760.00,757.50 V838.70 M734.40,838.70 V813.70" fill="none" stroke="#2b1200" stroke-width="1.35"/>
<path d="M764.45,757.50 V838.70 H768.85 V813.70 H790.45 V838.70 H794.45 V757.50 Z" fill="#ff8000"/>
<path d="M794.45,757.50 V838.70 M768.85,838.70 V813.70" fill="none" stroke="#2b1200" stroke-width="1.35"/>
<path d="M798.90,757.50 V838.70 H803.30 V813.70 H824.90 V838.70 H828.90 V757.50 Z" fill="#ff8000"/>
<path d="M828.90,757.50 V838.70 M803.30,838.70 V813.70" fill="none" stroke="#2b1200" stroke-width="1.35"/>
<path d="M656.80,757.50 H834.10" fill="none" stroke="#141414" stroke-width="1.5"/>
<rect x="888.70" y="757.50" width="177.30" height="118.50" fill="#fff" stroke="#141414" stroke-width="1.5"/>
<path d="M893.00,757.50 V838.70 H897.40 V813.70 H919.00 V838.70 H923.00 V757.50 Z" fill="#ff8000"/>
<path d="M893.00,757.50 V838.70 H898.00 V813.70 H920.00 V838.70 H923.00 V757.50" fill="none" stroke="#141414" stroke-width="1.35"/>
<path d="M927.45,757.50 V838.70 H931.85 V813.70 H953.45 V838.70 H957.45 V757.50 Z" fill="#ff8000"/>
<path d="M957.45,757.50 V838.70 M931.85,838.70 V813.70" fill="none" stroke="#2b1200" stroke-width="1.35"/>
<path d="M961.90,757.50 V838.70 H966.30 V813.70 H987.90 V838.70 H991.90 V757.50 Z" fill="#ff8000"/>
<path d="M991.90,757.50 V838.70 M966.30,838.70 V813.70" fill="none" stroke="#2b1200" stroke-width="1.35"/>
<path d="M996.35,757.50 V838.70 H1000.75 V813.70 H1022.35 V838.70 H1026.35 V757.50 Z" fill="#ff8000"/>
<path d="M1026.35,757.50 V838.70 M1000.75,838.70 V813.70" fill="none" stroke="#2b1200" stroke-width="1.35"/>
<path d="M1030.80,757.50 V838.70 H1035.20 V813.70 H1056.80 V838.70 H1060.80 V757.50 Z" fill="#ff8000"/>
<path d="M1060.80,757.50 V838.70 M1035.20,838.70 V813.70" fill="none" stroke="#2b1200" stroke-width="1.35"/>
<path d="M888.70,757.50 H1066.00" fill="none" stroke="#141414" stroke-width="1.5"/>
<rect x="1119.50" y="757.50" width="177.30" height="118.50" fill="#fff" stroke="#141414" stroke-width="1.5"/>
<path d="M1123.80,757.50 V838.70 H1128.20 V813.70 H1149.80 V838.70 H1153.80 V757.50 Z" fill="#ff8000"/>
<path d="M1123.80,757.50 V838.70 H1128.80 V813.70 H1150.80 V838.70 H1153.80 V757.50" fill="none" stroke="#141414" stroke-width="1.35"/>
<path d="M1158.25,757.50 V838.70 H1162.65 V813.70 H1184.25 V838.70 H1188.25 V757.50 Z" fill="#ff8000"/>
<path d="M1188.25,757.50 V838.70 M1162.65,838.70 V813.70" fill="none" stroke="#2b1200" stroke-width="1.35"/>
<path d="M1192.70,757.50 V838.70 H1197.10 V813.70 H1218.70 V838.70 H1222.70 V757.50 Z" fill="#ff8000"/>
<path d="M1222.70,757.50 V838.70 M1197.10,838.70 V813.70" fill="none" stroke="#2b1200" stroke-width="1.35"/>
<path d="M1227.15,757.50 V838.70 H1231.55 V813.70 H1253.15 V838.70 H1257.15 V757.50 Z" fill="#ff8000"/>
<path d="M1257.15,757.50 V838.70 M1231.55,838.70 V813.70" fill="none" stroke="#2b1200" stroke-width="1.35"/>
<path d="M1261.60,757.50 V838.70 H1266.00 V813.70 H1287.60 V838.70 H1291.60 V757.50 Z" fill="#ff8000"/>
<path d="M1291.60,757.50 V838.70 M1266.00,838.70 V813.70" fill="none" stroke="#2b1200" stroke-width="1.35"/>
<path d="M1119.50,757.50 H1296.80" fill="none" stroke="#141414" stroke-width="1.5"/>
<rect x="278.30" y="758.70" width="74.10" height="118.30" fill="#fff" stroke="#141414" stroke-width="1.5"/>
<path d="M283.70,758.70 V841.20 H288.10 V815.30 H309.50 V841.20 H313.50 V758.70 Z" fill="#ff8000"/>
<path d="M313.50,758.70 V841.20 M288.10,841.20 V815.30" fill="none" stroke="#2b1200" stroke-width="1.35"/>
<path d="M318.70,758.70 V841.20 H323.10 V815.30 H344.50 V841.20 H348.50 V758.70 Z" fill="#ff8000"/>
<path d="M348.50,758.70 V841.20 M323.10,841.20 V815.30" fill="none" stroke="#2b1200" stroke-width="1.35"/>
<path d="M278.30,758.70 H352.40" fill="none" stroke="#141414" stroke-width="1.5"/>
<path d="M327,859 L405.9,948" stroke="#141414" stroke-width="1.1" fill="none"/>
<path d="M322,446.7 L580,529.5" stroke="#141414" stroke-width="1.1" fill="none"/>
<path d="M850.1,673.3 L865.9,914.1" stroke="#141414" stroke-width="1.1" fill="none"/>
<path d="M171,698.4 L181,708 L160,729 C155,734 152,738 150,744 L130,794 A32.5,32.5 0 1 1 84,753 L138,729 C143,727 147,723 150,720 Z" fill="#fff500" stroke="#3a3a20" stroke-width="1.0"/>
<circle cx="100" cy="781.4" r="20.6" fill="#fff" stroke="#222" stroke-width="1.8"/>
<path d="M98.3,765.6 H101.9 V779.7 H115.6 V783.3 H101.9 V797.2 H98.3 V783.3 H83.8 V779.7 H98.3 Z" fill="#fff" stroke="#222" stroke-width="1.2"/>
<polygon points="307.5,890 317.2,890 317.2,912.6 346.7,912.6 346.7,919.3 317.2,919.3 317.2,931 331.4,931 331.4,939.5 317.2,939.5 317.2,952.5 323.2,952.5 323.2,960.8 317.2,960.8 317.2,968.8 307.5,968.8 307.5,960.8 301.3,960.8 301.3,952.5 307.5,952.5 307.5,939.5 292,939.5 292,931 307.5,931 307.5,919.3 280.4,919.3 280.4,912.6 307.5,912.6" fill="#fff" stroke="#141414" stroke-width="1.5"/>
<circle cx="477.4" cy="553.6" r="18.7" fill="#fff" stroke="#1c1c1c" stroke-width="1.4"/>
<text x="465.10" y="561.00" font-family="Liberation Sans, sans-serif" font-size="21.2" fill="#000" stroke="#000" stroke-width="0.4" textLength="23.6" lengthAdjust="spacingAndGlyphs">01</text>
<circle cx="515.2" cy="588.5" r="18.7" fill="#fff" stroke="#1c1c1c" stroke-width="1.4"/>
<text x="502.90" y="595.90" font-family="Liberation Sans, sans-serif" font-size="21.2" fill="#000" stroke="#000" stroke-width="0.4" textLength="23.6" lengthAdjust="spacingAndGlyphs">02</text>
<circle cx="548.8" cy="553.6" r="18.7" fill="#fff" stroke="#1c1c1c" stroke-width="1.4"/>
<text x="536.50" y="561.00" font-family="Liberation Sans, sans-serif" font-size="21.2" fill="#000" stroke="#000" stroke-width="0.4" textLength="23.6" lengthAdjust="spacingAndGlyphs">03</text>
<circle cx="708.6" cy="554.6" r="18.7" fill="#fff" stroke="#1c1c1c" stroke-width="1.4"/>
<text x="696.30" y="562.00" font-family="Liberation Sans, sans-serif" font-size="21.2" fill="#000" stroke="#000" stroke-width="0.4" textLength="23.6" lengthAdjust="spacingAndGlyphs">04</text>
<circle cx="745.6" cy="588.6" r="18.7" fill="#fff" stroke="#1c1c1c" stroke-width="1.4"/>
<text x="733.30" y="596.00" font-family="Liberation Sans, sans-serif" font-size="21.2" fill="#000" stroke="#000" stroke-width="0.4" textLength="23.6" lengthAdjust="spacingAndGlyphs">05</text>
<circle cx="777.4" cy="554.6" r="18.7" fill="#fff" stroke="#1c1c1c" stroke-width="1.4"/>
<text x="765.10" y="562.00" font-family="Liberation Sans, sans-serif" font-size="21.2" fill="#000" stroke="#000" stroke-width="0.4" textLength="23.6" lengthAdjust="spacingAndGlyphs">06</text>
<circle cx="940.6" cy="554.4" r="18.7" fill="#fff" stroke="#1c1c1c" stroke-width="1.4"/>
<text x="928.30" y="561.80" font-family="Liberation Sans, sans-serif" font-size="21.2" fill="#000" stroke="#000" stroke-width="0.4" textLength="23.6" lengthAdjust="spacingAndGlyphs">07</text>
<circle cx="977.0" cy="588.6" r="18.7" fill="#fff" stroke="#1c1c1c" stroke-width="1.4"/>
<text x="964.70" y="596.00" font-family="Liberation Sans, sans-serif" font-size="21.2" fill="#000" stroke="#000" stroke-width="0.4" textLength="23.6" lengthAdjust="spacingAndGlyphs">08</text>
<circle cx="1008.4" cy="554.4" r="18.7" fill="#fff" stroke="#1c1c1c" stroke-width="1.4"/>
<text x="996.10" y="561.80" font-family="Liberation Sans, sans-serif" font-size="21.2" fill="#000" stroke="#000" stroke-width="0.4" textLength="23.6" lengthAdjust="spacingAndGlyphs">09</text>
<circle cx="1171.4" cy="554.4" r="18.7" fill="#fff" stroke="#1c1c1c" stroke-width="1.4"/>
<text x="1159.10" y="561.80" font-family="Liberation Sans, sans-serif" font-size="21.2" fill="#000" stroke="#000" stroke-width="0.4" textLength="23.6" lengthAdjust="spacingAndGlyphs">10</text>
<circle cx="1208.6" cy="588.6" r="18.7" fill="#fff" stroke="#1c1c1c" stroke-width="1.4"/>
<text x="1196.30" y="596.00" font-family="Liberation Sans, sans-serif" font-size="21.2" fill="#000" stroke="#000" stroke-width="0.4" textLength="23.6" lengthAdjust="spacingAndGlyphs">11</text>
<circle cx="1240.0" cy="554.4" r="18.7" fill="#fff" stroke="#1c1c1c" stroke-width="1.4"/>
<text x="1227.70" y="561.80" font-family="Liberation Sans, sans-serif" font-size="21.2" fill="#000" stroke="#000" stroke-width="0.4" textLength="23.6" lengthAdjust="spacingAndGlyphs">12</text>
<circle cx="1276.6" cy="588.6" r="18.7" fill="#fff" stroke="#1c1c1c" stroke-width="1.4"/>
<text x="1264.30" y="596.00" font-family="Liberation Sans, sans-serif" font-size="21.2" fill="#000" stroke="#000" stroke-width="0.4" textLength="23.6" lengthAdjust="spacingAndGlyphs">13</text>
<circle cx="477.6" cy="638.0" r="18.7" fill="#fff" stroke="#1c1c1c" stroke-width="1.4"/>
<text x="465.30" y="646.50" font-family="Liberation Sans, sans-serif" font-size="21.2" fill="#000" stroke="#000" stroke-width="0.4" textLength="23.6" lengthAdjust="spacingAndGlyphs">01</text>
<circle cx="515.0" cy="680.0" r="18.7" fill="#fff" stroke="#1c1c1c" stroke-width="1.4"/>
<text x="502.70" y="688.50" font-family="Liberation Sans, sans-serif" font-size="21.2" fill="#000" stroke="#000" stroke-width="0.4" textLength="23.6" lengthAdjust="spacingAndGlyphs">02</text>
<circle cx="546.4" cy="638.0" r="18.7" fill="#fff" stroke="#1c1c1c" stroke-width="1.4"/>
<text x="534.10" y="646.50" font-family="Liberation Sans, sans-serif" font-size="21.2" fill="#000" stroke="#000" stroke-width="0.4" textLength="23.6" lengthAdjust="spacingAndGlyphs">03</text>
<circle cx="715.0" cy="677.0" r="18.7" fill="#fff" stroke="#1c1c1c" stroke-width="1.4"/>
<text x="702.70" y="685.50" font-family="Liberation Sans, sans-serif" font-size="21.2" fill="#000" stroke="#000" stroke-width="0.4" textLength="23.6" lengthAdjust="spacingAndGlyphs">04</text>
<circle cx="750.0" cy="638.3" r="18.7" fill="#fff" stroke="#1c1c1c" stroke-width="1.4"/>
<text x="737.70" y="646.80" font-family="Liberation Sans, sans-serif" font-size="21.2" fill="#000" stroke="#000" stroke-width="0.4" textLength="23.6" lengthAdjust="spacingAndGlyphs">05</text>
<circle cx="784.3" cy="676.7" r="18.7" fill="#fff" stroke="#1c1c1c" stroke-width="1.4"/>
<text x="772.00" y="685.20" font-family="Liberation Sans, sans-serif" font-size="21.2" fill="#000" stroke="#000" stroke-width="0.4" textLength="23.6" lengthAdjust="spacingAndGlyphs">06</text>
<circle cx="947.3" cy="676.7" r="18.7" fill="#fff" stroke="#1c1c1c" stroke-width="1.4"/>
<text x="935.00" y="685.20" font-family="Liberation Sans, sans-serif" font-size="21.2" fill="#000" stroke="#000" stroke-width="0.4" textLength="23.6" lengthAdjust="spacingAndGlyphs">07</text>
<circle cx="981.0" cy="637.7" r="18.7" fill="#fff" stroke="#1c1c1c" stroke-width="1.4"/>
<text x="968.70" y="646.20" font-family="Liberation Sans, sans-serif" font-size="21.2" fill="#000" stroke="#000" stroke-width="0.4" textLength="23.6" lengthAdjust="spacingAndGlyphs">08</text>
<circle cx="1015.7" cy="676.7" r="18.7" fill="#fff" stroke="#1c1c1c" stroke-width="1.4"/>
<text x="1003.40" y="685.20" font-family="Liberation Sans, sans-serif" font-size="21.2" fill="#000" stroke="#000" stroke-width="0.4" textLength="23.6" lengthAdjust="spacingAndGlyphs">09</text>
<circle cx="1178.0" cy="677.0" r="18.7" fill="#fff" stroke="#1c1c1c" stroke-width="1.4"/>
<text x="1165.70" y="685.50" font-family="Liberation Sans, sans-serif" font-size="21.2" fill="#000" stroke="#000" stroke-width="0.4" textLength="23.6" lengthAdjust="spacingAndGlyphs">10</text>
<circle cx="1213.0" cy="638.0" r="18.7" fill="#fff" stroke="#1c1c1c" stroke-width="1.4"/>
<text x="1200.70" y="646.50" font-family="Liberation Sans, sans-serif" font-size="21.2" fill="#000" stroke="#000" stroke-width="0.4" textLength="23.6" lengthAdjust="spacingAndGlyphs">11</text>
<circle cx="1247.4" cy="677.0" r="18.7" fill="#fff" stroke="#1c1c1c" stroke-width="1.4"/>
<text x="1235.10" y="685.50" font-family="Liberation Sans, sans-serif" font-size="21.2" fill="#000" stroke="#000" stroke-width="0.4" textLength="23.6" lengthAdjust="spacingAndGlyphs">12</text>
<circle cx="1279.0" cy="639.4" r="18.7" fill="#fff" stroke="#1c1c1c" stroke-width="1.4"/>
<text x="1266.70" y="647.90" font-family="Liberation Sans, sans-serif" font-size="21.2" fill="#000" stroke="#000" stroke-width="0.4" textLength="23.6" lengthAdjust="spacingAndGlyphs">13</text>
<rect x="185.30" y="276.70" width="215.40" height="31.10" fill="#fff" stroke="#141414" stroke-width="1.5"/>
<text x="193.40" y="304.60" font-family="Liberation Sans, sans-serif" font-size="30.8" fill="#000" stroke="#000" stroke-width="0.4" stroke-linejoin="round" textLength="179.44" lengthAdjust="spacingAndGlyphs">n° 8 MOR415</text>
<rect x="15.50" y="426.90" width="306.00" height="41.10" fill="#fff" stroke="#141414" stroke-width="1.5"/>
<text x="26.50" y="459.10" font-family="Liberation Sans, sans-serif" font-size="34.8" fill="#000" stroke="#000" stroke-width="0.4" stroke-linejoin="round" textLength="287.39" lengthAdjust="spacingAndGlyphs">n°3 XZCVTO07MA</text>
<rect x="405.80" y="934.70" width="215.00" height="30.40" fill="#fff" stroke="#141414" stroke-width="1.5"/>
<text x="412.80" y="961.80" font-family="Liberation Sans, sans-serif" font-size="30.8" fill="#000" stroke="#000" stroke-width="0.4" stroke-linejoin="round" textLength="179.54" lengthAdjust="spacingAndGlyphs">n° 1 MOR412</text>
<rect x="711.40" y="914.60" width="308.10" height="40.60" fill="#fff" stroke="#141414" stroke-width="1.5"/>
<text x="727.20" y="945.10" font-family="Liberation Sans, sans-serif" font-size="34.3" fill="#000" stroke="#000" stroke-width="0.4" stroke-linejoin="round" textLength="277.63" lengthAdjust="spacingAndGlyphs">n°3 XZCVTO07BL</text>
<rect x="54.4" y="1165.3" width="1334.6" height="244.70000000000005" fill="#fff" stroke="#141414" stroke-width="1.4"/>
<path d="M135.5,1165.3 V1410 M435.7,1165.3 V1410 M54.4,1226.2 H1389 M54.4,1288 H1389 M54.4,1350 H1389" stroke="#141414" stroke-width="1.4" fill="none"/>
<text x="56.82" y="1209.30" font-family="Liberation Sans, sans-serif" font-size="42.4" fill="#000" stroke="#000" stroke-width="0.5" stroke-linejoin="round" textLength="71.07" lengthAdjust="spacingAndGlyphs">n° 1</text>
<text x="148.61" y="1208.50" font-family="Liberation Sans, sans-serif" font-size="42.4" fill="#000" stroke="#000" stroke-width="0.5" stroke-linejoin="round" textLength="169.06" lengthAdjust="spacingAndGlyphs">MOR412</text>
<text x="452.30" y="1211.20" font-family="Liberation Sans, sans-serif" font-size="42.6" fill="#000" stroke="#000" stroke-width="0.5" stroke-linejoin="round" textLength="916.23" lengthAdjust="spacingAndGlyphs">2-pole transparent universal terminal Transparent</text>
<text x="56.63" y="1270.60" font-family="Liberation Sans, sans-serif" font-size="42.4" fill="#000" stroke="#000" stroke-width="0.5" stroke-linejoin="round" textLength="76.19" lengthAdjust="spacingAndGlyphs">n° 8</text>
<text x="148.62" y="1269.80" font-family="Liberation Sans, sans-serif" font-size="42.4" fill="#000" stroke="#000" stroke-width="0.5" stroke-linejoin="round" textLength="168.94" lengthAdjust="spacingAndGlyphs">MOR415</text>
<text x="452.72" y="1272.20" font-family="Liberation Sans, sans-serif" font-size="42.6" fill="#000" stroke="#000" stroke-width="0.5" stroke-linejoin="round" textLength="915.81" lengthAdjust="spacingAndGlyphs">5-pole transparent universal terminal Transparent</text>
<text x="56.64" y="1331.40" font-family="Liberation Sans, sans-serif" font-size="42.4" fill="#000" stroke="#000" stroke-width="0.5" stroke-linejoin="round" textLength="75.76" lengthAdjust="spacingAndGlyphs">n° 3</text>
<text x="146.45" y="1330.60" font-family="Liberation Sans, sans-serif" font-size="42.4" fill="#000" stroke="#000" stroke-width="0.5" stroke-linejoin="round" textLength="281.86" lengthAdjust="spacingAndGlyphs">XZCVTO07MA</text>
<text x="452.32" y="1332.40" font-family="Liberation Sans, sans-serif" font-size="42.6" fill="#000" stroke="#000" stroke-width="0.5" stroke-linejoin="round" textLength="794.70" lengthAdjust="spacingAndGlyphs">H05VK 1X0,75 7cm cable section – Brown</text>
<text x="56.64" y="1391.80" font-family="Liberation Sans, sans-serif" font-size="42.4" fill="#000" stroke="#000" stroke-width="0.5" stroke-linejoin="round" textLength="75.76" lengthAdjust="spacingAndGlyphs">n° 3</text>
<text x="151.45" y="1391.00" font-family="Liberation Sans, sans-serif" font-size="42.4" fill="#000" stroke="#000" stroke-width="0.5" stroke-linejoin="round" textLength="269.86" lengthAdjust="spacingAndGlyphs">XZCVTO07BL</text>
<text x="452.32" y="1392.10" font-family="Liberation Sans, sans-serif" font-size="42.6" fill="#000" stroke="#000" stroke-width="0.5" stroke-linejoin="round" textLength="760.13" lengthAdjust="spacingAndGlyphs">H05VK 1X0,75 7cm cable section – Blue</text>
</svg>
</body></html>
